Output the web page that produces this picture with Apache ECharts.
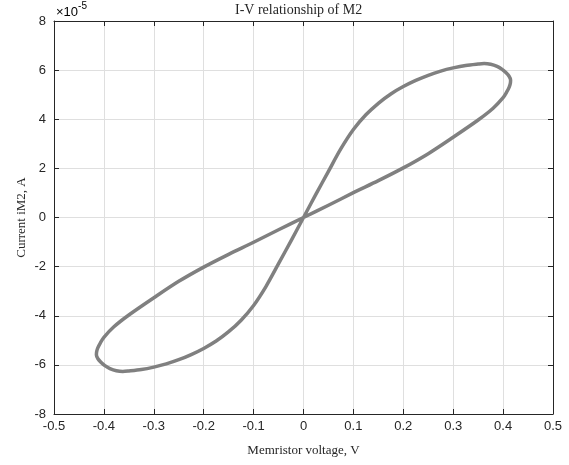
<!DOCTYPE html>
<html>
<head>
<meta charset="utf-8">
<script src="https://cdn.jsdelivr.net/npm/echarts@6/dist/echarts.min.js"></script>
<style>html,body{margin:0;padding:0;background:#fff}#c{width:569px;height:465px}</style>
</head>
<body>
<div id="c"></div>
<script>
// Tick labels
var xTicks = [-0.5, -0.4, -0.3, -0.2, -0.1, 0, 0.1, 0.2, 0.3, 0.4, 0.5];
var yTicks = [-8, -6, -4, -2, 0, 2, 4, 6, 8];
// Right lobe (V, current in units of 1e-5 A): steep branch up, around tip, shallow branch back
var rightV = [0, 0.025, 0.05, 0.075, 0.1, 0.125, 0.15, 0.175, 0.2, 0.225, 0.25, 0.275, 0.3, 0.325, 0.35, 0.362, 0.375, 0.388, 0.398, 0.406, 0.412, 0.415, 0.4145, 0.412, 0.407, 0.4, 0.38, 0.35, 0.3, 0.25, 0.2, 0.15, 0.1, 0.05, 0];
var rightI = [0, 0.95, 1.88, 2.8, 3.58, 4.18, 4.65, 5.03, 5.33, 5.58, 5.79, 5.96, 6.09, 6.19, 6.25, 6.27, 6.24, 6.15, 6.03, 5.89, 5.75, 5.6, 5.46, 5.3, 5.1, 4.88, 4.45, 3.97, 3.27, 2.6, 2.02, 1.5, 1.01, 0.5, 0];
// Left lobe: shallow branch down, around tip, steep branch back to origin
var leftV = [0, -0.05, -0.1, -0.15, -0.2, -0.25, -0.3, -0.35, -0.38, -0.4, -0.407, -0.412, -0.4145, -0.415, -0.412, -0.406, -0.398, -0.388, -0.375, -0.362, -0.35, -0.325, -0.3, -0.275, -0.25, -0.225, -0.2, -0.175, -0.15, -0.125, -0.1, -0.075, -0.05, -0.025, 0];
var leftI = [0, -0.5, -1.01, -1.5, -2.02, -2.6, -3.27, -3.97, -4.45, -4.88, -5.1, -5.3, -5.46, -5.6, -5.75, -5.89, -6.03, -6.15, -6.24, -6.27, -6.25, -6.19, -6.09, -5.96, -5.79, -5.58, -5.33, -5.03, -4.65, -4.18, -3.58, -2.8, -1.88, -0.95, 0];

var pts = [];
for (var i = 0; i < rightV.length; i++) pts.push([rightV[i], rightI[i]]);
for (var j = 1; j < leftV.length; j++) pts.push([leftV[j], leftI[j]]);

var txt = '#262626';
var sans = 'Arial, "Liberation Sans", Helvetica, sans-serif';
var serif = '"Times New Roman", "Liberation Serif", serif';
var chart = echarts.init(document.getElementById('c'), null, {renderer: 'canvas'});
var gridL = 54, gridR = 16, gridT = 21, gridB = 51;
function fmtX(v) { return (Math.round(v * 10) / 10).toString(); }
var commonAxisLine = {show: true, onZero: false, lineStyle: {color: txt, width: 1}};
chart.setOption({
  animation: false,
  backgroundColor: '#fff',
  grid: {left: gridL, right: gridR, top: gridT, bottom: gridB, containLabel: false},
  graphic: [
    {type: 'text', left: 303 - 68, top: 3, style: {text: 'I-V relationship of M2', font: '14px ' + serif, fill: txt}},
    {type: 'text', left: 56, top: 1, style: {
      text: '{a|×10}{b|-5}',
      rich: {a: {fontFamily: sans, fontSize: 13, color: txt, padding: [5, 0, 0, 0]}, b: {fontFamily: sans, fontSize: 10, color: txt, verticalAlign: 'top', padding: [0, 0, 6, 0]}}
    }}
  ],
  xAxis: [{
    type: 'value', min: -0.5, max: 0.5, interval: 0.1, position: 'bottom',
    name: 'Memristor voltage, V', nameLocation: 'middle', nameGap: 30, nameMoveOverlap: false,
    nameTextStyle: {fontFamily: serif, fontSize: 13, color: txt},
    axisLine: commonAxisLine,
    axisTick: {show: true, inside: true, length: 5, lineStyle: {color: txt}},
    axisLabel: {fontFamily: sans, fontSize: 13, color: txt, margin: 6, formatter: fmtX, showMinLabel: true, showMaxLabel: true},
    splitLine: {show: true, lineStyle: {color: '#dfdfdf', width: 1}}
  }, {
    type: 'value', min: -0.5, max: 0.5, interval: 0.1, position: 'top',
    axisLine: commonAxisLine,
    axisTick: {show: true, inside: true, length: 5, lineStyle: {color: txt}},
    axisLabel: {show: false}, splitLine: {show: false}
  }],
  yAxis: [{
    type: 'value', min: -8, max: 8, interval: 2, position: 'left',
    name: 'Current iM2, A', nameLocation: 'middle', nameGap: 26, nameRotate: 90, nameMoveOverlap: false,
    nameTextStyle: {fontFamily: serif, fontSize: 13, color: txt},
    axisLine: commonAxisLine,
    axisTick: {show: true, inside: true, length: 5, lineStyle: {color: txt}},
    axisLabel: {fontFamily: sans, fontSize: 13, color: txt, margin: 8},
    splitLine: {show: true, lineStyle: {color: '#dfdfdf', width: 1}}
  }, {
    type: 'value', min: -8, max: 8, interval: 2, position: 'right',
    axisLine: commonAxisLine,
    axisTick: {show: true, inside: true, length: 5, lineStyle: {color: txt}},
    axisLabel: {show: false}, splitLine: {show: false}
  }],
  series: [{
    type: 'line', xAxisIndex: 0, yAxisIndex: 0, data: pts,
    showSymbol: false, smooth: 0.3, clip: false,
    lineStyle: {color: '#808080', width: 3.5, join: 'round', cap: 'round'}
  }]
});
</script>
</body>
</html>
